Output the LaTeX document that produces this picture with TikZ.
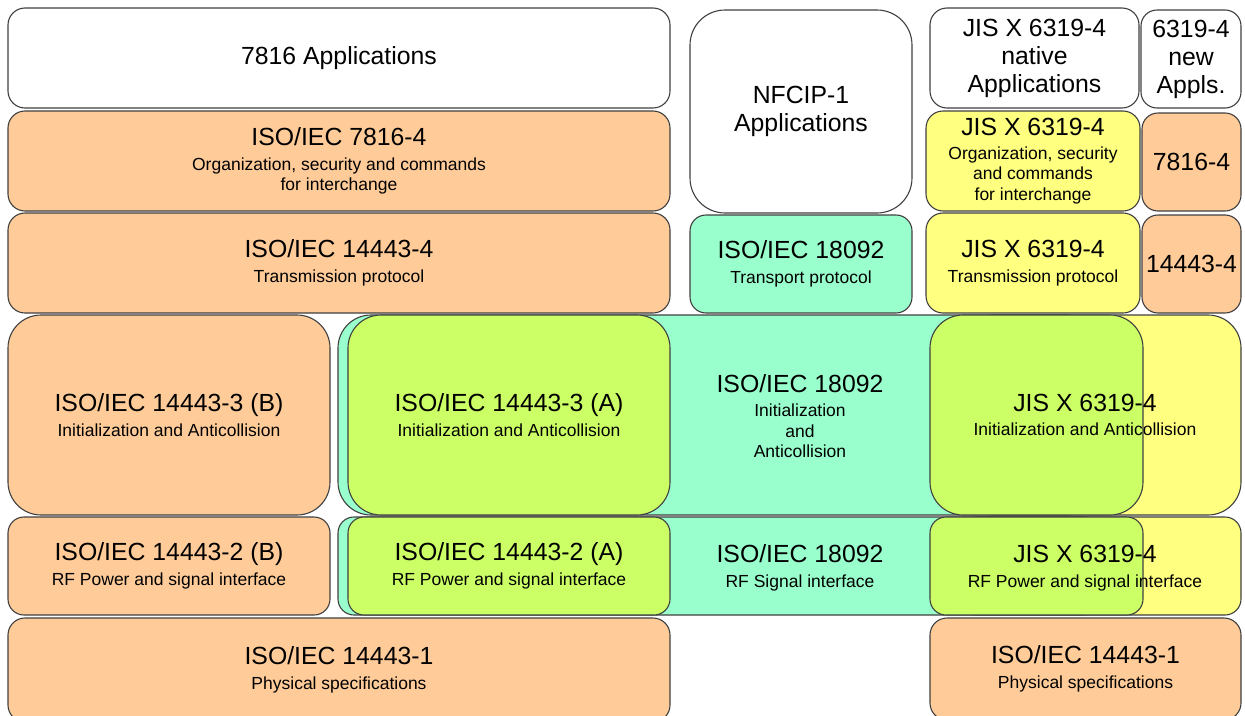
\documentclass[tikz,border=0pt]{standalone}
\usepackage{fontspec}
\setmainfont{Liberation Sans}
\newcommand\Ttl{\fontsize{24.8}{28}\selectfont}
\newcommand\Sbt{\fontsize{17.5}{20.5}\selectfont}
\definecolor{orangeC}{HTML}{FFCC99}
\definecolor{tealC}{HTML}{99FFCC}
\definecolor{yellowC}{HTML}{FFFF80}
\definecolor{greenC}{HTML}{CCFF66}
\definecolor{edgeC}{HTML}{404040}
\begin{document}
\begin{tikzpicture}[x=1pt,y=-1pt,
  bx/.style={draw=edgeC, line width=1.1pt, inner sep=0pt, align=center, font=\Sbt, text=black},
  whbox/.style={bx, fill=white},
  orbox/.style={bx, fill=orangeC},
  tlbox/.style={bx, fill=tealC},
  ylbox/.style={bx, fill=yellowC},
  grbox/.style={bx, fill=greenC},
  lbl/.style={inner sep=0pt, align=center, font=\Sbt, text=black},
  tall/.style={minimum height=200, rounded corners=33},
  low/.style={minimum height=98, rounded corners=16}]
\useasboundingbox (0,0) rectangle (1245,715);
\clip (0,0) rectangle (1245,715);

% row 1
\node[whbox, minimum width=662, minimum height=100, rounded corners=17, font=\Ttl] (app7816) at (339,58) {7816 Applications};
\node[whbox, minimum width=222, minimum height=203, rounded corners=35, font=\Ttl] (nfcip) at (801,111.5) {NFCIP-1\\Applications};
\node[whbox, minimum width=209, minimum height=100, rounded corners=17, font=\Ttl] (jisnat) at (1034.5,58) {JIS X 6319-4\\native\\Applications};
\node[whbox, minimum width=100, minimum height=98, rounded corners=16, font=\Ttl] (newappl) at (1191,59) {6319-4\\new\\Appls.};

% row 2
\node[orbox, minimum width=662, minimum height=100, rounded corners=17] (iso7816) at (339,161) {{\Ttl ISO/IEC 7816-4}\\[4pt]Organization, security and commands\\for interchange};
\node[ylbox, minimum width=214, minimum height=100, rounded corners=17] (jisorg) at (1033,161) {{\Ttl JIS X 6319-4}\\[3pt]Organization, security\\and commands\\for interchange};
\node[orbox, minimum width=99, minimum height=98, rounded corners=16, font=\Ttl] (r7816) at (1191.5,162) {7816-4};

% row 3
\node[orbox, minimum width=662, minimum height=100, rounded corners=17] (iso14443f) at (339,263) {{\Ttl ISO/IEC 14443-4}\\[4pt]Transmission protocol};
\node[tlbox, minimum width=222, low] (tr18092) at (801,264) {{\Ttl ISO/IEC 18092}\\[4pt]Transport protocol};
\node[ylbox, minimum width=214, minimum height=100, rounded corners=17] (jistr) at (1033,263) {{\Ttl JIS X 6319-4}\\[4pt]Transmission protocol};
\node[orbox, minimum width=99, low, font=\Ttl] (r14443) at (1191.5,264) {14443-4};

% row 4
\node[orbox, minimum width=322, tall] (b3) at (169,415) {{\Ttl ISO/IEC 14443-3 (B)}\\[4pt]Initialization and Anticollision};
\node[tlbox, minimum width=762, tall] (teal4) at (719,415) {};
\node[ylbox, minimum width=281, tall] (yel4) at (1100.5,415) {};
\node[grbox, minimum width=322, tall] (a3) at (509,415) {{\Ttl ISO/IEC 14443-3 (A)}\\[4pt]Initialization and Anticollision};
\node[grbox, minimum width=213, tall] (g4) at (1036.5,415) {};
\node[lbl] (t4) at (800,416) {{\Ttl ISO/IEC 18092}\\[4pt]Initialization\\and\\Anticollision};
\node[lbl] (j4) at (1085,415) {{\Ttl JIS X 6319-4}\\[4pt]Initialization and Anticollision};

% row 5
\node[orbox, minimum width=322, low] (b2) at (169,566) {{\Ttl ISO/IEC 14443-2 (B)}\\[4pt]RF Power and signal interface};
\node[tlbox, minimum width=762, low] (teal5) at (719,566) {};
\node[ylbox, minimum width=281, low] (yel5) at (1100.5,566) {};
\node[grbox, minimum width=322, low] (a2) at (509,566) {{\Ttl ISO/IEC 14443-2 (A)}\\[4pt]RF Power and signal interface};
\node[grbox, minimum width=213, low] (g5) at (1036.5,566) {};
\node[lbl] (t5) at (800,568) {{\Ttl ISO/IEC 18092}\\[4pt]RF Signal interface};
\node[lbl] (j5) at (1085,568) {{\Ttl JIS X 6319-4}\\[4pt]RF Power and signal interface};

% row 6
\node[orbox, minimum width=662, minimum height=104, rounded corners=17] (p1) at (339,670) {{\Ttl ISO/IEC 14443-1}\\[4pt]Physical specifications};
\node[orbox, minimum width=311, minimum height=102, rounded corners=17] (p1r) at (1085.5,669) {{\Ttl ISO/IEC 14443-1}\\[4pt]Physical specifications};
\end{tikzpicture}
\end{document}
